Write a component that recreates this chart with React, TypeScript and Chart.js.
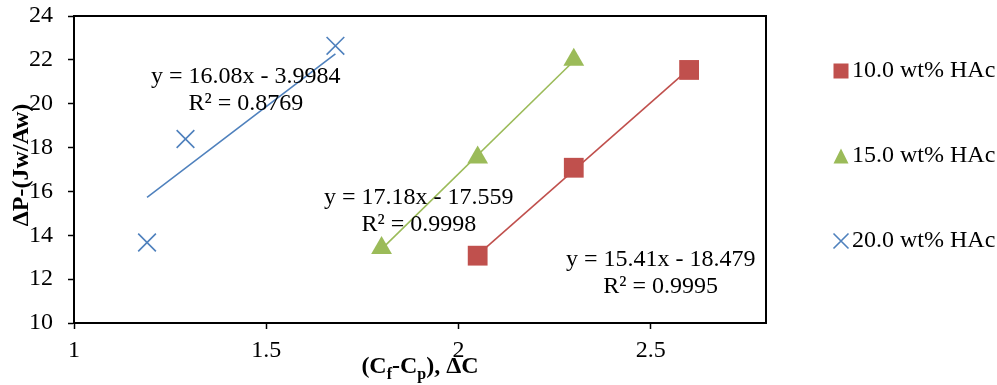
import React, { useEffect, useRef } from 'react';
import { Chart, registerables } from 'chart.js';

Chart.register(...registerables);

// ---- data ----
const seriesNames = ['10.0 wt% HAc', '15.0 wt% HAc', '20.0 wt% HAc'];
const x10 = [2.05, 2.3, 2.6];
const y10 = [13.07, 17.08, 21.54];
const x15 = [1.8, 2.05, 2.3];
const y15 = [13.42, 17.55, 22.0];
const x20 = [1.19, 1.29, 1.68];
const y20 = [13.67, 18.39, 22.64];

// trendline end points (as drawn)
const trend10X = [2.05, 2.6];
const trend10Y = [13.11, 21.59];
const trend15X = [1.8, 2.3];
const trend15Y = [13.37, 21.95];
const trend20X = [1.19, 1.68];
const trend20Y = [15.73, 22.27];

const equations = ['y = 15.41x - 18.479', 'y = 17.18x - 17.559', 'y = 16.08x - 3.9984'];
const rSquared = ['R² = 0.9995', 'R² = 0.9998', 'R² = 0.8769'];
// label anchor (data coords of the centre of the equation line)
const labelX = [2.526, 1.897, 1.447];
const labelY = [12.89, 15.72, 21.21];

const xTickValues = [1, 1.5, 2, 2.5];
const yTickValues = [10, 12, 14, 16, 18, 20, 22, 24];

// ---- styles ----
const FONT = "'Liberation Serif', 'Times New Roman', serif";
const colors = ['#C0504D', '#9BBB59', '#4F81BD'];
const pointStyles: any[] = ['rect', 'triangle', 'crossRot'];
const pointRadii = [14, 12, 12.5];

const toPts = (xs: number[], ys: number[]) => xs.map((x, i) => ({ x, y: ys[i] }));

function drawMarker(ctx: CanvasRenderingContext2D, style: string, x: number, y: number, size: number, color: string) {
  ctx.save();
  ctx.fillStyle = color;
  ctx.strokeStyle = color;
  if (style === 'rect') {
    ctx.fillRect(x - size / 2, y - size / 2, size, size);
  } else if (style === 'triangle') {
    ctx.beginPath();
    ctx.moveTo(x, y - size / 2);
    ctx.lineTo(x + size / 2, y + size / 2);
    ctx.lineTo(x - size / 2, y + size / 2);
    ctx.closePath();
    ctx.fill();
  } else {
    ctx.lineWidth = 1.6;
    ctx.beginPath();
    ctx.moveTo(x - size / 2, y - size / 2);
    ctx.lineTo(x + size / 2, y + size / 2);
    ctx.moveTo(x + size / 2, y - size / 2);
    ctx.lineTo(x - size / 2, y + size / 2);
    ctx.stroke();
  }
  ctx.restore();
}

const decorPlugin = {
  id: 'decor',
  afterDatasetsDraw(chart: any) {
    const { ctx, chartArea, scales } = chart;
    ctx.save();
    // plot box
    ctx.strokeStyle = '#000';
    ctx.lineWidth = 2;
    ctx.strokeRect(chartArea.left, chartArea.top, chartArea.right - chartArea.left, chartArea.bottom - chartArea.top);

    // equations
    ctx.fillStyle = '#000';
    ctx.font = `24px ${FONT}`;
    ctx.textAlign = 'center';
    ctx.textBaseline = 'middle';
    for (let i = 0; i < equations.length; i++) {
      const px = scales.x.getPixelForValue(labelX[i]);
      const py = scales.y.getPixelForValue(labelY[i]);
      ctx.fillText(equations[i], px, py);
      ctx.fillText(rSquared[i], px, py + 27);
    }

    // y title
    ctx.save();
    ctx.translate(22, 165);
    ctx.rotate(-Math.PI / 2);
    ctx.font = `bold 24px ${FONT}`;
    ctx.textAlign = 'center';
    ctx.textBaseline = 'middle';
    ctx.fillText('ΔP-(Jw/Aw)', 0, 0);
    ctx.restore();

    // x title with subscripts
    const parts: [string, boolean][] = [['(C', false], ['f', true], ['-C', false], ['p', true], ['), ΔC', false]];
    const mainFont = `bold 24px ${FONT}`;
    const subFont = `bold 16px ${FONT}`;
    let total = 0;
    for (const [t, sub] of parts) {
      ctx.font = sub ? subFont : mainFont;
      total += ctx.measureText(t).width;
    }
    let cx = (chartArea.left + chartArea.right) / 2 - total / 2;
    const baseY = 373;
    ctx.textAlign = 'left';
    ctx.textBaseline = 'alphabetic';
    for (const [t, sub] of parts) {
      ctx.font = sub ? subFont : mainFont;
      ctx.fillText(t, cx, sub ? baseY + 6 : baseY);
      cx += ctx.measureText(t).width;
    }

    // legend
    const lx = chartArea.right + 75;
    const ly0 = 71;
    const gap = 85;
    ctx.font = `24px ${FONT}`;
    ctx.textBaseline = 'middle';
    ctx.textAlign = 'left';
    for (let i = 0; i < seriesNames.length; i++) {
      const y = ly0 + i * gap;
      drawMarker(ctx, pointStyles[i], lx, y, 15, colors[i]);
      ctx.fillStyle = '#000';
      ctx.fillText(seriesNames[i], lx + 11, y);
    }
    ctx.restore();
  },
};

export default function App() {
  const ref = useRef<HTMLCanvasElement | null>(null);
  useEffect(() => {
    document.body.style.margin = '0';
    const canvas = ref.current;
    if (!canvas) return;
    const markerSets = [toPts(x10, y10), toPts(x15, y15), toPts(x20, y20)];
    const trendSets = [toPts(trend10X, trend10Y), toPts(trend15X, trend15Y), toPts(trend20X, trend20Y)];
    const datasets: any[] = [];
    markerSets.forEach((d, i) => {
      datasets.push({
        label: seriesNames[i],
        data: d,
        showLine: false,
        pointStyle: pointStyles[i],
        pointRadius: pointRadii[i],
        pointHoverRadius: pointRadii[i],
        backgroundColor: colors[i],
        borderColor: colors[i],
        pointBorderWidth: i === 2 ? 1.6 : 0,
      });
    });
    trendSets.forEach((d, i) => {
      datasets.push({
        label: 'trend ' + seriesNames[i],
        data: d,
        showLine: true,
        pointRadius: 0,
        borderColor: colors[i],
        borderWidth: 1.6,
        fill: false,
      });
    });

    const chart = new Chart(canvas, {
      type: 'scatter',
      data: { datasets },
      options: {
        animation: false,
        responsive: true,
        maintainAspectRatio: false,
        layout: { padding: { left: 0, top: 16, right: 231, bottom: 0 } },
        plugins: { legend: { display: false }, tooltip: { enabled: false } },
        scales: {
          x: {
            type: 'linear',
            min: 1,
            max: 2.8,
            afterFit: (s: any) => { s.height = 62; s.paddingLeft = 0; s.paddingRight = 0; },
            afterBuildTicks: (s: any) => { s.ticks = xTickValues.map((v) => ({ value: v })); },
            ticks: {
              includeBounds: false,
              stepSize: 0.5,
              color: '#000',
              padding: 7,
              maxRotation: 0,
              font: { family: FONT, size: 24 },
              callback: (v: any) => String(v),
            },
            grid: { drawOnChartArea: false, drawTicks: true, tickLength: 6, color: '#000', tickWidth: 1.5 },
            border: { display: true, color: '#000', width: 2 },
          },
          y: {
            type: 'linear',
            min: 10,
            max: 24,
            afterFit: (s: any) => { s.width = 74; s.paddingTop = 0; s.paddingBottom = 0; },
            afterBuildTicks: (s: any) => { s.ticks = yTickValues.map((v) => ({ value: v })); },
            ticks: {
              stepSize: 2,
              color: '#000',
              padding: 15,
              font: { family: FONT, size: 24 },
              callback: (v: any) => String(v),
            },
            grid: { drawOnChartArea: false, drawTicks: true, tickLength: 6, color: '#000', tickWidth: 1.5 },
            border: { display: true, color: '#000', width: 2 },
          },
        },
      },
      plugins: [decorPlugin],
    });
    return () => chart.destroy();
  }, []);
  return (
    <div style={{ position: 'relative', width: '997px', height: '385px' }}>
      <canvas ref={ref} />
    </div>
  );
}
